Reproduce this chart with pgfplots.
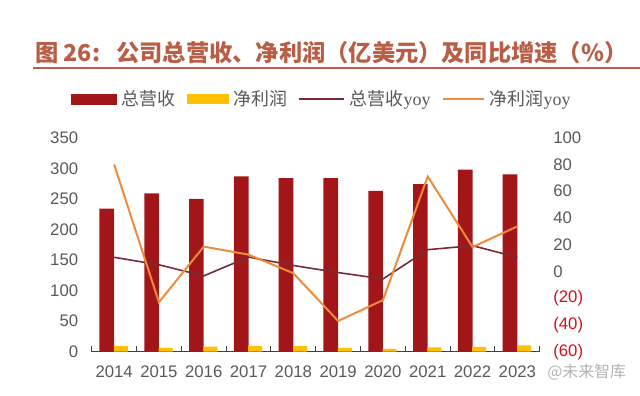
\documentclass[border=0pt]{standalone}
\usepackage{fontspec}
\setmainfont{Liberation Sans}
\newfontfamily\cjk{Noto Sans CJK SC}
\newfontfamily\serif{Liberation Serif}
\usepackage{pgfplots}
\pgfplotsset{compat=1.18}
\definecolor{rev}{HTML}{A2161A}
\definecolor{net}{HTML}{FFC000}
\definecolor{revyoy}{HTML}{7A2A36}
\definecolor{netyoy}{HTML}{EE8A3A}
\definecolor{ttl}{HTML}{B95E46}
\definecolor{lab}{HTML}{595959}
\definecolor{neg}{HTML}{D0101E}
\begin{document}
\begin{tikzpicture}
\path[use as bounding box] (0bp,0bp) rectangle (480bp,297bp);
\node[anchor=west, inner sep=0pt, text=ttl, font=\fontsize{17.5}{20}\cjk\bfseries] at (26.25bp,257.25bp) {图 26:\hspace{12bp}公司总营收、净利润（亿美元）及同比增速（\%）};
\draw[ttl, line width=1.5bp] (24.75bp,246.2bp) -- (480bp,246.2bp);
\begin{axis}[
  at={(68.8bp,33.2bp)}, anchor=south west,
  scale only axis, width=336bp, height=160.5bp,
  xmin=-0.5, xmax=9.5, ymin=0, ymax=350,
  xtick={0,...,9},
  xticklabels={2014,2015,2016,2017,2018,2019,2020,2021,2022,2023},
  minor xtick={-0.5,0.5,...,9.5},
  ytick={0,50,...,350},
  major tick length=0pt, minor tick length=4bp,
  tick align=inside,
  axis x line*=bottom, axis y line*=left,
  x axis line style={-, draw=black!75, line width=0.8bp},
  y axis line style={draw=none},
  minor tick style={draw=black!75, line width=0.8bp},
  /pgf/number format/assume math mode=true,
  /pgf/number format/1000 sep={},
  ticklabel style={font=\fontsize{12.6}{14}\selectfont, text=lab},
  yticklabel style={inner sep=0pt, xshift=-10bp},
  xticklabel style={inner sep=0pt, yshift=-10.5bp},
  clip=false,
]
\addplot[ybar, bar width=11bp, bar shift=-5.5bp, fill=rev, draw=none]
  coordinates {(0,234) (1,259) (2,250) (3,287) (4,284) (5,284) (6,263) (7,274) (8,298) (9,290)};
\addplot[ybar, bar width=10.5bp, bar shift=5bp, fill=net, draw=none]
  coordinates {(0,9) (1,6.5) (2,8.5) (3,9.5) (4,9) (5,5.8) (6,4.5) (7,7) (8,8) (9,10.5)};
\end{axis}
\begin{axis}[
  at={(68.8bp,33.2bp)}, anchor=south west,
  scale only axis, width=336bp, height=160.5bp,
  xmin=-0.5, xmax=9.5, ymin=-60, ymax=100,
  axis x line=none,
  axis y line*=right,
  y axis line style={draw=none},
  ytick={-60,-40,...,100},
  yticklabels={{\color{neg}(60)},{\color{neg}(40)},{\color{neg}(20)},0,20,40,60,80,100},
  major tick length=0pt,
  ticklabel style={font=\fontsize{12.6}{14}\selectfont, text=lab},
  yticklabel style={inner sep=0pt, xshift=10bp, anchor=west},
  clip=false,
  legend columns=4,
  legend style={at={(0.512,1.181)}, anchor=center, draw=none, fill=none,
    font=\fontsize{13.5}{15}\selectfont, text=lab, inner sep=0pt,
    nodes={inner sep=0.5bp},
    /tikz/every odd column/.append style={column sep=3bp},
    /tikz/every even column/.append style={column sep=8bp}},
]
\addlegendimage{legend image code/.code={\fill[rev] (0bp,-3.75bp) rectangle (34bp,3.75bp);}}
\addlegendentry{\cjk 总营收}
\addlegendimage{legend image code/.code={\fill[net] (0bp,-3.2bp) rectangle (31bp,3.2bp);}}
\addlegendentry{\cjk 净利润}
\addplot[revyoy, line width=1.2bp, mark=none,
  legend image code/.code={\draw[revyoy, line width=1.2bp] (0bp,0bp) -- (34bp,0bp);}]
  coordinates {(0,10.6) (1,5) (2,-3.3) (3,10.8) (4,4.5) (5,-0.8) (6,-5.6) (7,16.3) (8,19.3) (9,10.6)};
\addlegendentry{{\cjk 总营收}{\serif yoy}}
\addplot[netyoy, line width=1.5bp, mark=none,
  legend image code/.code={\draw[netyoy, line width=1.5bp] (0bp,0bp) -- (31bp,0bp);}]
  coordinates {(0,80) (1,-23) (2,18.6) (3,12.6) (4,-1.3) (5,-37) (6,-21.4) (7,71) (8,18.3) (9,33.7)};
\addlegendentry{{\cjk 净利润}{\serif yoy}}
\end{axis}
\node[anchor=center, inner sep=0pt, text=black!30, font=\fontsize{12}{14}\cjk] at (440bp,18bp) {@未来智库};
\end{tikzpicture}
\end{document}
